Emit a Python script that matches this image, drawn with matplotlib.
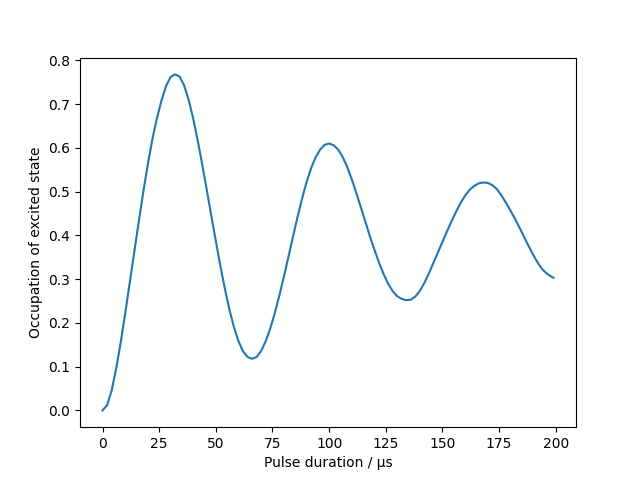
import numpy as np
import matplotlib.pyplot as plt

# Pulse duration (us), every 2 us
t = list(range(0, 200, 2)) + [199]

# Occupation of excited state at those durations
p = [0.000, 0.012, 0.045, 0.095, 0.155, 0.222, 0.292, 0.362, 0.432, 0.500,
     0.563, 0.620, 0.668, 0.708, 0.741, 0.762, 0.768,
     0.763, 0.743, 0.710, 0.667, 0.617, 0.562, 0.504, 0.445, 0.387, 0.330,
     0.278, 0.230, 0.190, 0.158, 0.135, 0.122, 0.118,
     0.122, 0.136, 0.158, 0.187, 0.222, 0.262, 0.305, 0.350, 0.396, 0.441,
     0.483, 0.521, 0.553, 0.578, 0.596, 0.607, 0.610,
     0.606, 0.596, 0.579, 0.556, 0.528, 0.497, 0.464, 0.431, 0.398, 0.367,
     0.338, 0.312, 0.290, 0.273, 0.261, 0.255, 0.252,
     0.253, 0.260, 0.273, 0.291, 0.313, 0.337, 0.361, 0.385, 0.409, 0.432,
     0.454, 0.474, 0.491, 0.504, 0.513, 0.519, 0.521,
     0.520, 0.515, 0.506, 0.492, 0.475, 0.457, 0.438, 0.418, 0.397, 0.376,
     0.356, 0.338, 0.323, 0.313, 0.306,
     0.303]

fig, ax = plt.subplots(figsize=(6.4, 4.8), dpi=100)
ax.plot(t, p)
ax.set_xlabel("Pulse duration / μs")
ax.set_ylabel("Occupation of excited state")

plt.savefig("out.png")
